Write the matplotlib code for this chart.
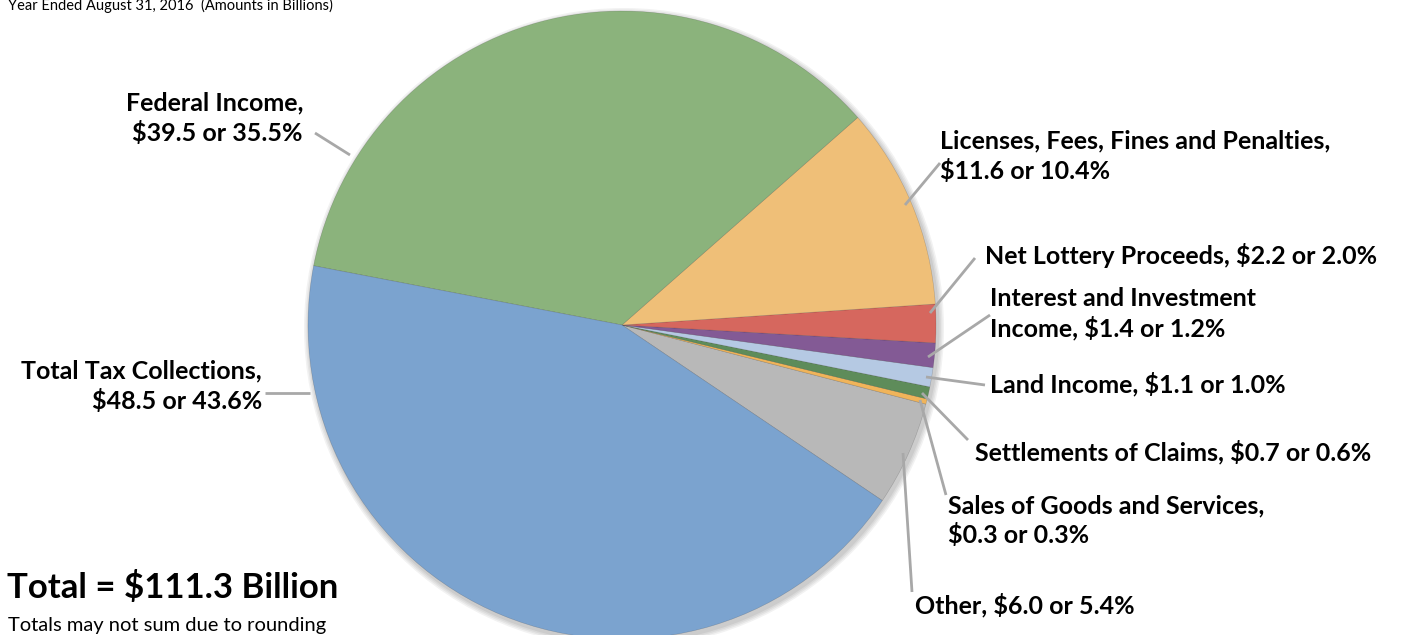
import matplotlib.pyplot as plt

W, H = 1403, 635

# slices, counter-clockwise starting from "Other"
names = ["Other", "Sales of Goods and Services", "Settlements of Claims",
         "Land Income", "Interest and Investment Income", "Net Lottery Proceeds",
         "Licenses, Fees, Fines and Penalties", "Federal Income", "Total Tax Collections"]
amounts = [6.0, 0.3, 0.7, 1.1, 1.4, 2.2, 11.6, 39.5, 48.5]
percents = [5.4, 0.3, 0.6, 1.0, 1.2, 2.0, 10.4, 35.5, 43.6]
colors = ["#b8b8b8", "#f0b45a", "#5e8c5a", "#b5c9e3", "#835a95",
          "#d6675e", "#efbf78", "#8bb37c", "#7ba3cf"]

fig = plt.figure(figsize=(W / 100, H / 100), dpi=100)
ax = fig.add_axes([0, 0, 1, 1])

plt.rcParams["font.family"] = ["Lato", "DejaVu Sans"]

def Y(y):
    return H - y

cx, cy, r = 622, Y(325), 314

# soft shadow under the pie
for i, a in enumerate([0.05, 0.05, 0.05, 0.06]):
    ax.add_patch(plt.Circle((cx + 2, cy - 3), r + 6 - 1.5 * i, color="black",
                            alpha=a, lw=0, zorder=1))

ax.pie(amounts, colors=colors, startangle=-34, counterclock=True,
       center=(cx, cy), radius=r, frame=True,
       wedgeprops=dict(linewidth=0.4, edgecolor="#00000030", zorder=2))
ax.set_xlim(0, W)
ax.set_ylim(0, H)
ax.set_aspect("equal")
ax.axis("off")

def lab(i):
    return f"${amounts[i]:.1f} or {percents[i]:.1f}%"

lc = "#a8a8a8"
lw = 2.0
fs = 18

# leader lines (pie edge -> label)
leaders = [
    ((350, 155), (315, 133)),   # Federal
    ((905, 205), (940, 163)),   # Licenses
    ((930, 313), (975, 258)),   # Lottery
    ((928, 357), (990, 315)),   # Interest
    ((926, 377), (985, 385)),   # Land
    ((922, 393), (968, 440)),   # Settlements
    ((920, 400), (946, 495)),   # Sales
    ((903, 453), (912, 592)),   # Other
    ((310, 393), (265, 393)),   # Tax
]
for (x0, y0), (x1, y1) in leaders:
    ax.plot([x0, x1], [Y(y0), Y(y1)], color=lc, lw=lw, zorder=3,
            solid_capstyle="butt")

txt = dict(fontsize=fs, fontweight="bold", color="black", va="center")
ls = 1.3
ax.text(303, Y(118), "Federal Income,\n" + lab(7), ha="right",
        multialignment="right", linespacing=ls, **txt)
ax.text(940, Y(156), "Licenses, Fees, Fines and Penalties,\n" + lab(6),
        ha="left", linespacing=ls, **txt)
ax.text(985, Y(256), "Net Lottery Proceeds, " + lab(5), ha="left", **txt)
ax.text(990, Y(314), "Interest and Investment\nIncome, " + lab(4),
        ha="left", linespacing=ls, **txt)
ax.text(990, Y(384), "Land Income, " + lab(3), ha="left", **txt)
ax.text(975, Y(452), "Settlements of Claims, " + lab(2), ha="left", **txt)
ax.text(948, Y(521), "Sales of Goods and Services,\n" + lab(1),
        ha="left", linespacing=ls, **txt)
ax.text(915, Y(605), "Other, " + lab(0), ha="left", **txt)
ax.text(262, Y(386), "Total Tax Collections,\n" + lab(8), ha="right",
        multialignment="right", linespacing=ls, **txt)

ax.text(8, Y(5), "Year Ended August 31, 2016  (Amounts in Billions)",
        fontsize=10.5, ha="left", va="center", color="black")
ax.text(7, Y(588), "Total = $111.3 Billion", fontsize=25, fontweight="bold",
        ha="left", va="center")
ax.text(8, Y(626), "Totals may not sum due to rounding", fontsize=14.5,
        ha="left", va="center")

fig.savefig("out.png", dpi=100)
